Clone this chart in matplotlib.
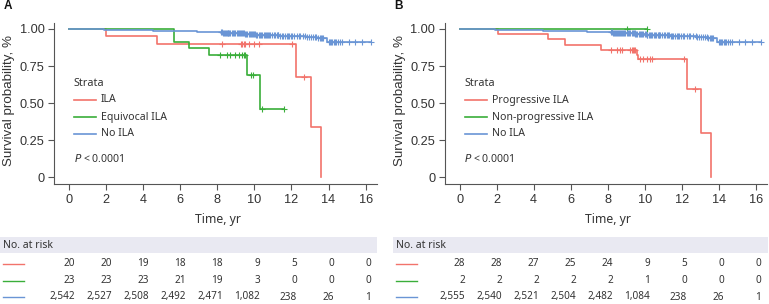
import matplotlib.pyplot as plt
import matplotlib.transforms as mtransforms
from matplotlib.patches import Rectangle
from matplotlib.lines import Line2D
import numpy as np

W, H = 769, 304

RED = '#F2736B'
GREEN = '#3AAE3A'
BLUE = '#6A95D5'
TXT = '#333333'

# ---- panel A data ----
ila_t = [0, 2.0, 4.75, 12.27, 13.05, 13.6]
ila_s = [1.0, 0.95, 0.90, 0.675, 0.3375, 0.0]
ila_cens = [8.25, 9.28, 9.35, 9.45, 9.51, 9.69, 9.96, 10.23, 12.03, 12.66]

equ_t = [0, 5.64, 6.45, 7.57, 9.6, 10.32, 11.6]
equ_s = [1.0, 0.913, 0.870, 0.826, 0.688, 0.459, 0.459]
equ_cens = [8.16, 8.52, 8.70, 8.97, 9.15, 9.33, 9.46, 9.51, 9.82, 9.93, 10.41, 11.6]

noila_t_a = [0, 1.0, 1.9, 2.8, 3.6, 4.5, 5.3, 6.1, 6.9, 7.6, 8.3, 8.9, 9.5,
             10.1, 10.8, 11.4, 12.1, 12.8, 13.4, 13.75, 13.9, 16.3]
noila_s_a = [1.0, 0.998, 0.996, 0.993, 0.991, 0.989, 0.986, 0.983, 0.980, 0.977,
             0.974, 0.970, 0.966, 0.962, 0.958, 0.954, 0.950, 0.946, 0.942, 0.937,
             0.914, 0.914]
noila_cens_a = [8.2, 8.25, 8.3, 8.35, 8.4, 8.45, 8.5, 8.55, 8.6, 8.65, 8.7, 8.8,
                8.85, 8.9, 8.95, 9.05, 9.1, 9.15, 9.2, 9.3, 9.35, 9.4, 9.45, 9.5,
                9.55, 9.6, 9.7, 9.75, 9.8, 9.85, 9.9, 10.0, 10.05, 10.1, 10.15,
                10.25, 10.3, 10.35, 10.4, 10.5, 10.55, 10.6, 10.7, 10.75, 10.8,
                10.85, 10.95, 11.05, 11.1, 11.2, 11.25, 11.3, 11.4, 11.5, 11.55,
                11.65, 11.75, 11.8, 11.85, 11.95, 12.05, 12.15, 12.3, 12.4, 12.45,
                12.6, 12.75, 12.85, 12.95, 13.05, 13.15, 13.25, 13.35, 13.45, 13.55,
                13.6, 13.65, 13.7, 14.0, 14.1, 14.15, 14.2, 14.3, 14.35, 14.4, 14.5,
                14.6, 14.75, 15.1, 15.45, 15.8, 16.3]

# ---- panel B data ----
prog_t = [0, 2.07, 4.78, 5.68, 7.66, 9.56, 9.65, 12.27, 13.05, 13.6]
prog_s = [1.0, 0.964, 0.929, 0.893, 0.857, 0.826, 0.796, 0.597, 0.298, 0.0]
prog_cens = [8.2, 8.48, 8.66, 8.75, 9.2, 9.3, 9.38, 9.44, 9.47, 9.74, 9.92,
             10.1, 10.28, 10.37, 12.14, 12.7]

nonprog_t = [0, 10.1]
nonprog_s = [1.0, 1.0]
nonprog_cens = [9.07, 10.1]

noila_t_b = [0, 1.0, 1.9, 2.8, 3.6, 4.5, 5.3, 6.1, 6.9, 7.6, 8.3, 8.9, 9.5,
             10.1, 10.8, 11.4, 12.1, 12.8, 13.4, 13.75, 13.9, 16.3]
noila_s_b = [1.0, 0.998, 0.996, 0.994, 0.992, 0.989, 0.986, 0.983, 0.980, 0.977,
             0.974, 0.970, 0.966, 0.962, 0.958, 0.954, 0.950, 0.946, 0.942, 0.938,
             0.915, 0.915]
noila_cens_b = noila_cens_a

times = [0, 2, 4, 6, 8, 10, 12, 14, 16]
risk_a = [
    ['20', '20', '19', '18', '18', '9', '5', '0', '0'],
    ['23', '23', '23', '21', '19', '3', '0', '0', '0'],
    ['2,542', '2,527', '2,508', '2,492', '2,471', '1,082', '238', '26', '1'],
]
risk_b = [
    ['28', '28', '27', '25', '24', '9', '5', '0', '0'],
    ['2', '2', '2', '2', '2', '1', '0', '0', '0'],
    ['2,555', '2,540', '2,521', '2,504', '2,482', '1,084', '238', '26', '1'],
]
labels_a = ['ILA', 'Equivocal ILA', 'No ILA']
labels_b = ['Progressive ILA', 'Non-progressive ILA', 'No ILA']
colors = [RED, GREEN, BLUE]

FONT = 'Noto Sans'
TICKFONT = 'Liberation Sans'

fig = plt.figure(figsize=(W / 100, H / 100), dpi=100)


def fx(px):
    return px / W


def fy(py):
    return 1 - py / H


def km(ax, t, s, cens, color):
    t = np.array(t)
    s = np.array(s)
    ax.step(t, s, where='post', color=color, lw=1.2, zorder=3)
    idx = np.searchsorted(t, np.array(cens), side='right') - 1
    ax.plot(cens, s[idx], ls='none', marker='+', ms=5, mew=0.8, color=color, zorder=3)


def panel(left, right, letter, curves, labels, risk, band_l, band_r):
    ax = fig.add_axes([fx(left), fy(184.3), fx(right - left), (184.3 - 23) / H])
    for t, s, c, col in curves:
        km(ax, t, s, c, col)
    ax.set_xlim(-0.8, 16.6)
    ax.set_ylim(-0.047, 1.04)
    ax.set_xticks(times)
    ax.set_yticks([0, 0.25, 0.5, 0.75, 1.0])
    ax.set_yticklabels(['0', '0.25', '0.50', '0.75', '1.00'])
    for sp in ['top', 'right']:
        ax.spines[sp].set_visible(False)
    for sp in ['left', 'bottom']:
        ax.spines[sp].set_color('#555555')
        ax.spines[sp].set_linewidth(0.8)
    ax.tick_params(colors='#555555', labelcolor=TXT, length=4, width=0.8, labelsize=9.2, pad=3)
    for lab in ax.get_xticklabels() + ax.get_yticklabels():
        lab.set_family(TICKFONT)

    x0 = left + 19.5
    fig.text(fx(left - 51), fy(6), letter, fontsize=8.5, fontweight='bold', family='Liberation Sans',
             color='#111111', ha='left', va='center')
    fig.text(fx(left - 45), fy(100), 'Survival probability, %', rotation=90, fontsize=9.6,
             family=TICKFONT, color=TXT, ha='center', va='center')
    fig.text(fx(x0), fy(83), 'Strata', fontsize=7.8, family=FONT, color=TXT, va='center')
    for i, (lab, col) in enumerate(zip(labels, colors)):
        yy = fy(100 + 17 * i)
        fig.add_artist(Line2D([fx(x0), fx(x0 + 22)], [yy, yy], color=col, lw=1.2))
        fig.text(fx(x0 + 27), yy, lab, fontsize=7.6, family=FONT, color=TXT, va='center')
    fig.text(fx(x0), fy(159), '$P$ < 0.0001', fontsize=7.6, family=FONT, color=TXT, va='center')

    fig.text(fx((left + right) / 2 + 2), fy(220), 'Time, yr', fontsize=8.8, family=FONT,
             color=TXT, ha='center', va='center')

    # risk table
    fig.patches.append(Rectangle((fx(band_l), fy(253.3)), fx(band_r - band_l), (253.3 - 236.7) / H,
                                 transform=fig.transFigure, facecolor='#E9E9F2', edgecolor='none'))
    fig.text(fx(band_l + 3), fy(245), 'No. at risk', fontsize=7.5, family=FONT, color=TXT, va='center')
    tr = mtransforms.blended_transform_factory(ax.transData, fig.transFigure)
    for i, (row, col) in enumerate(zip(risk, colors)):
        yy = fy(264 + 16.5 * i)
        fig.add_artist(Line2D([fx(band_l + 3), fx(band_l + 24)], [yy, yy], color=col, lw=1.0))
        for tt, val in zip(times, row):
            fig.text(tt + 0.3, yy, val, transform=tr, fontsize=7.2, family=FONT, color=TXT,
                     ha='right', va='center')
    return ax


panel(54.3, 376.7, 'A',
      [(ila_t, ila_s, ila_cens, RED), (equ_t, equ_s, equ_cens, GREEN),
       (noila_t_a, noila_s_a, noila_cens_a, BLUE)],
      labels_a, risk_a, 0, 377)
panel(445, 766.7, 'B',
      [(prog_t, prog_s, prog_cens, RED), (nonprog_t, nonprog_s, nonprog_cens, GREEN),
       (noila_t_b, noila_s_b, noila_cens_b, BLUE)],
      labels_b, risk_b, 393, 768)

fig.savefig('out.png', dpi=100)
